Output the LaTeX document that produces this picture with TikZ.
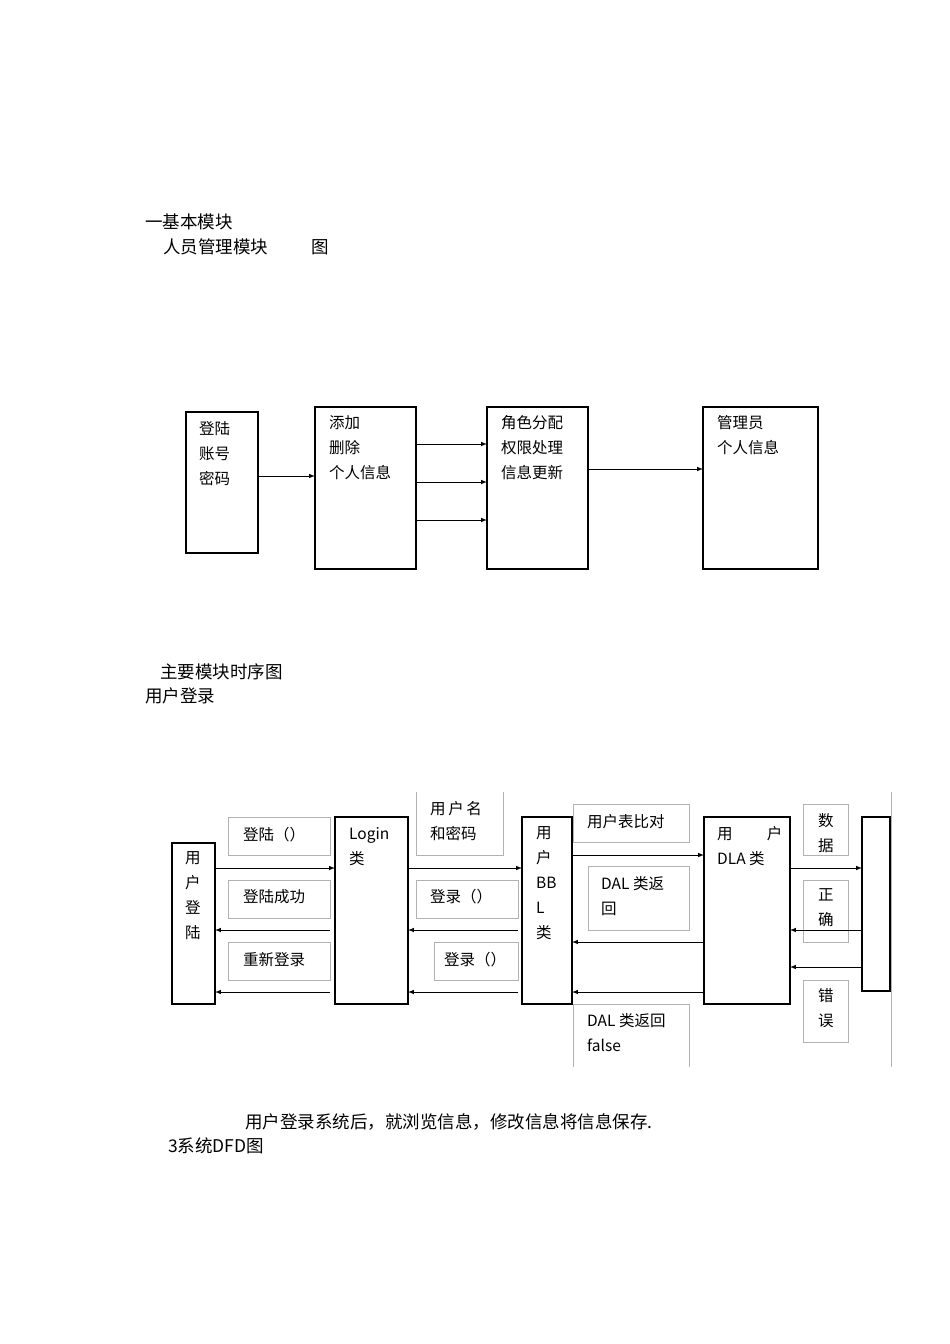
\documentclass[tikz,border=0pt]{standalone}
\usepackage{fontspec}
\setmainfont{Liberation Serif}
\newfontfamily\cjk{Noto Sans CJK SC}
\begin{document}
\begin{tikzpicture}[x=1pt,y=-1pt,
 box/.style={draw,line width=1.2pt},
 lbl/.style={draw=gray!60,line width=0.5pt},
 arr/.style={-latex,line width=1pt},
 t/.style={anchor=north west,inner sep=0pt,font=\cjk\fontsize{15.5}{25}\selectfont,align=left},
 th/.style={anchor=north west,inner sep=0pt,font=\cjk\fontsize{17.5}{25}\selectfont,align=left}]
\useasboundingbox (0,0) rectangle (950,1344);
\node[th] (h1) at (145,214) {一基本模块};
\node[th] (h2) at (163,239) {人员管理模块\hspace{2.5em}图};
% top diagram
\draw[box] (186,412) rectangle (258,553); \coordinate (a1) at (258,476);
\draw[box] (315,407) rectangle (416,569);
\draw[box] (487,407) rectangle (588,569);
\draw[box] (703,407) rectangle (818,569);
\node[t] (ta) at (199,421) {登陆\\账号\\密码};
\node[t] (tb) at (329,415) {添加\\删除\\个人信息};
\node[t] (tc) at (501,415) {角色分配\\权限处理\\信息更新};
\node[t] (td) at (717,415) {管理员\\个人信息};
\coordinate (b1) at (315,476);
\draw[arr] (a1) -- (b1);
\foreach \y in {444,482,520}{\coordinate (p) at (416,\y); \coordinate (q) at (487,\y); \draw[arr] (p) -- (q);}
\coordinate (c1) at (588,469); \coordinate (d1) at (703,469);
\draw[arr] (c1) -- (d1);
\node[th] (h3) at (160,664) {主要模块时序图};
\node[th] (h4) at (145,688) {用户登录};
% bottom diagram
\draw[box] (172,843) rectangle (215,1004);
\draw[box] (335,817) rectangle (408,1004);
\draw[box] (522,817) rectangle (572,1004);
\draw[box] (704,817) rectangle (790,1004);
\draw[box] (862,817) rectangle (890,991);
\draw[gray!60,line width=0.5pt] (891,792) -- (891,1067);
\draw[lbl] (228,817) rectangle (330,855);
\draw[lbl] (228,880) rectangle (330,918);
\draw[lbl] (228,942) rectangle (330,980);
\draw[lbl] (416,792) -- (416,855) -- (503,855) -- (503,792);
\draw[lbl] (416,880) rectangle (518,918);
\draw[lbl] (434,942) rectangle (518,980);
\draw[lbl] (573,804) rectangle (689,842);
\draw[lbl] (588,866) rectangle (689,930);
\draw[lbl] (573,1067) -- (573,1004) -- (689,1004) -- (689,1067);
\draw[lbl] (803,804) rectangle (848,855);
\draw[lbl] (803,880) rectangle (848,942);
\draw[lbl] (803,980) rectangle (848,1042);
\node[t] at (185,851) {用\\户\\登\\陆};
\node[t] at (349,827) {Login\\\cjk 类};
\node[t] at (536,826) {用\\户\\BB\\L\\\cjk 类};
\node[t] at (717,826) {用\hspace{2.2em}户\\DLA 类};
\node[t] at (243,827) {登陆（）};
\node[t] at (243,889) {登陆成功};
\node[t] at (243,952) {重新登录};
\node[t] at (430,801) {用\,户\,名\\和密码};
\node[t] at (430,889) {登录（）};
\node[t] at (444,952) {登录（）};
\node[t] at (587,814) {用户表比对};
\node[t] at (601,876) {DAL 类返\\回};
\node[t] at (587,1013) {DAL 类返回\\false};
\node[t] at (818,813) {数\\据};
\node[t] at (818,888) {正\\确};
\node[t] at (818,988) {错\\误};
\foreach \xa/\xb/\y in {215/335/868,408/522/868,790/862/868,572/704/855,330/215/930,518/408/930,862/790/930,704/572/942,862/790/967,330/215/992,518/408/992,704/572/992}{
 \coordinate (u) at (\xa,\y); \coordinate (v) at (\xb,\y); \draw[arr] (u) -- (v);}
\node[th] (h5) at (245,1113) {用户登录系统后，就浏览信息，修改信息将信息保存.};
\node[th] (h6) at (168,1138) {3系统DFD图};
\end{tikzpicture}
\end{document}
